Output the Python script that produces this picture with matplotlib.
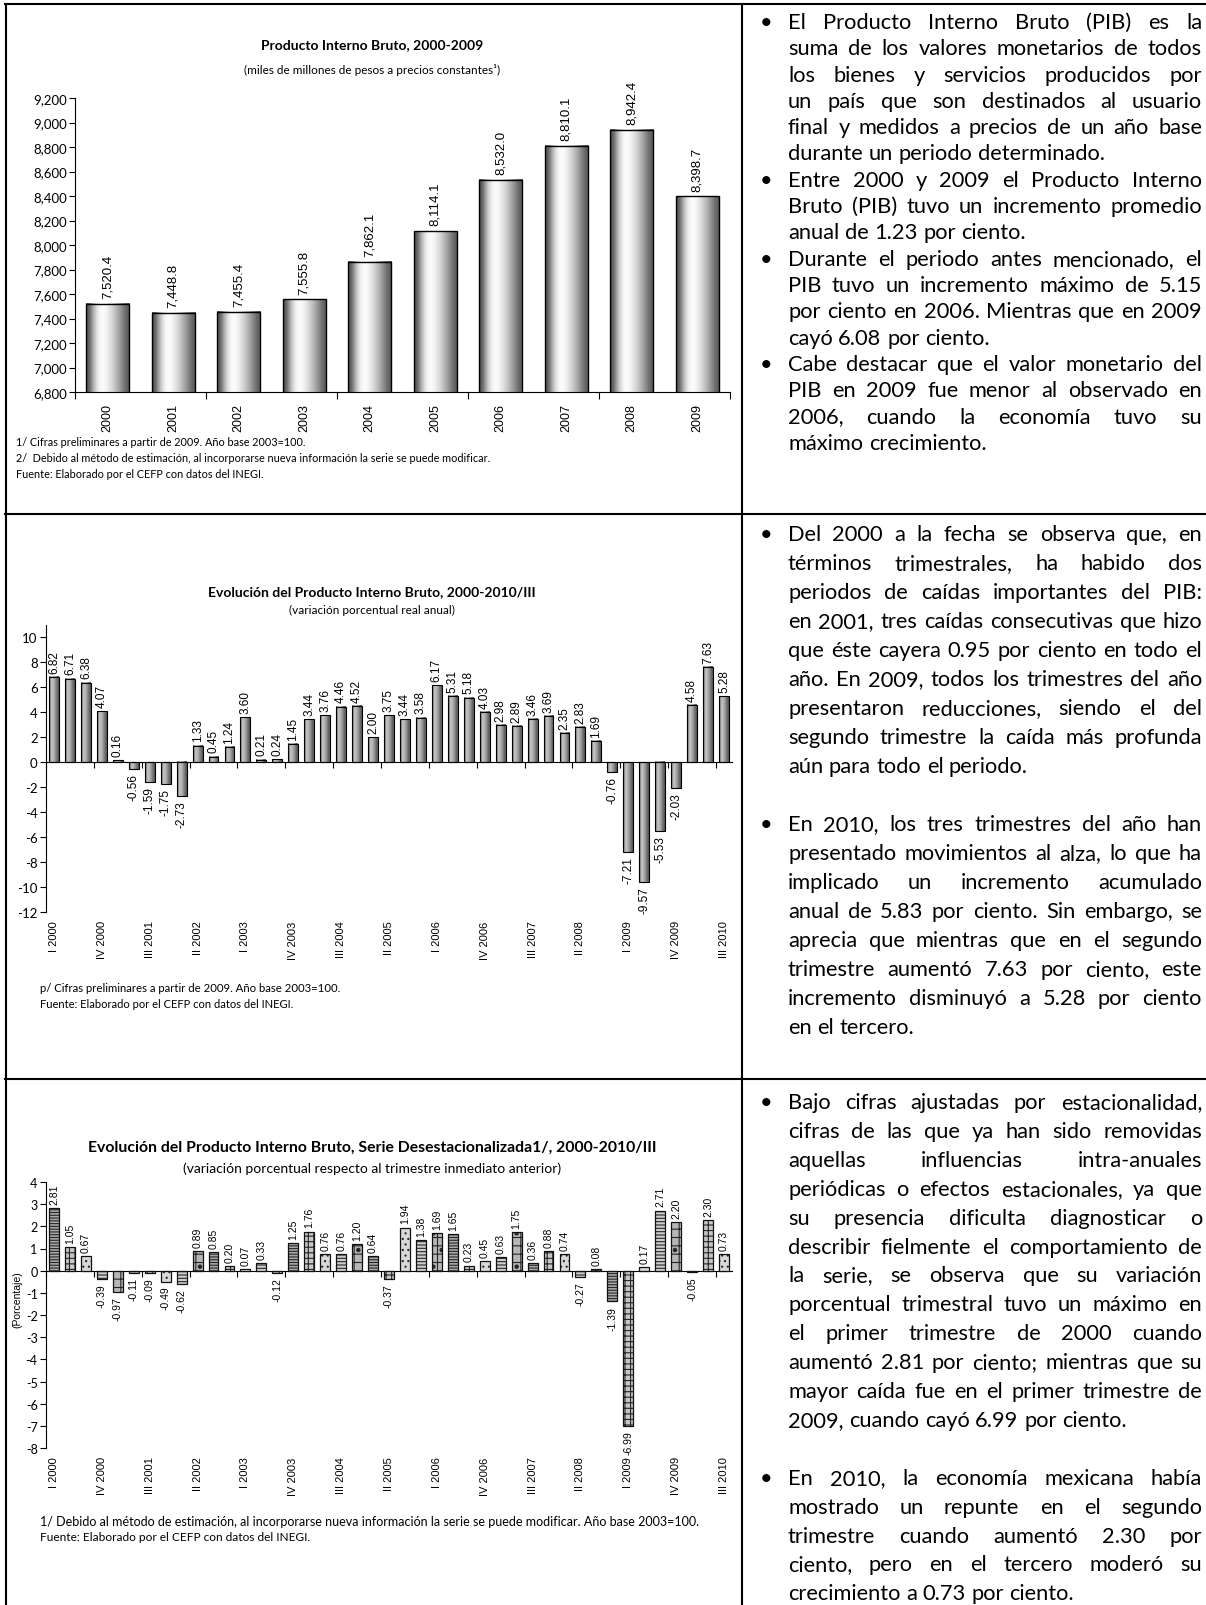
import numpy as np
import matplotlib.pyplot as plt
from matplotlib.lines import Line2D
from matplotlib.transforms import blended_transform_factory

plt.rcParams['axes.unicode_minus'] = False

W, H = 1206, 1606
fig = plt.figure(figsize=(W / 100, H / 100), dpi=100)

# ---- data ----
years = ['2000', '2001', '2002', '2003', '2004', '2005', '2006', '2007', '2008', '2009']
pib = [7520.4, 7448.8, 7455.4, 7555.8, 7862.1, 8114.1, 8532.0, 8810.1, 8942.4, 8398.7]

# quarterly, I 2000 .. III 2010 (43 values)
var_anual = [6.82, 6.71, 6.38, 4.07,
             0.16, -0.56, -1.59, -1.75,
             -2.73, 1.33, 0.45, 1.24,
             3.60, 0.21, 0.24, 1.45,
             3.44, 3.76, 4.46, 4.52,
             2.00, 3.75, 3.44, 3.58,
             6.17, 5.31, 5.18, 4.03,
             2.98, 2.89, 3.46, 3.69,
             2.35, 2.83, 1.69, -0.76,
             -7.21, -9.57, -5.53, -2.03,
             4.58, 7.63, 5.28]
var_desest = [2.81, 1.05, 0.67, -0.39,
              -0.97, -0.11, -0.09, -0.49,
              -0.62, 0.89, 0.85, 0.20,
              0.07, 0.33, -0.12, 1.25,
              1.76, 0.76, 0.76, 1.20,
              0.64, -0.37, 1.94, 1.38,
              1.69, 1.65, 0.23, 0.45,
              0.63, 1.75, 0.36, 0.88,
              0.74, -0.27, 0.08, -1.39,
              -6.99, 0.17, 2.71, 2.20,
              -0.05, 2.30, 0.73]
q_ticks = ['I 2000', 'IV 2000', 'III 2001', 'II 2002', 'I 2003', 'IV 2003', 'III 2004',
           'II 2005', 'I 2006', 'IV 2006', 'III 2007', 'II 2008', 'I 2009', 'IV 2009', 'III 2010']

TXT = 'Lato'
ARIAL = 'Liberation Sans'


def px_axes(x0, y0, x1, y1):
    return fig.add_axes([x0 / W, 1 - y1 / H, (x1 - x0) / W, (y1 - y0) / H])


def px_text(x, y, s, **kw):
    return fig.text(x / W, 1 - y / H, s, **kw)


def px_line(xs, ys, lw=1.5):
    fig.add_artist(Line2D([v / W for v in xs], [1 - v / H for v in ys], color='black', lw=lw))


def shade(ax, bars, g):
    # cylinder like shading inside every bar
    for b in bars:
        x0, y0, w, h = b.get_x(), b.get_y(), b.get_width(), b.get_height()
        ax.imshow(g, extent=[x0, x0 + w, y0, y0 + h], aspect='auto', cmap='gray',
                  vmin=0, vmax=1, interpolation='bicubic', zorder=2)


def style_axes(ax, ysize):
    ax.spines['top'].set_visible(False)
    ax.spines['right'].set_visible(False)
    ax.spines['left'].set_linewidth(0.8)
    ax.spines['bottom'].set_linewidth(0.8)
    ax.tick_params(axis='y', direction='out', length=4, width=0.8, labelsize=ysize, pad=2)
    for lab in ax.get_yticklabels():
        lab.set_family(TXT)


# ---------------- chart 1 ----------------
ax1 = px_axes(75, 99, 730, 393)
x1 = np.arange(len(years))
bars1 = ax1.bar(x1, pib, width=0.66, color='none', edgecolor='black', lw=1, zorder=3)
shade(ax1, bars1, np.array([[0.3, 0.7, 0.95, 1.0, 0.93, 0.82, 0.68, 0.52, 0.35]]))
ax1.set_xlim(-0.5, 9.5)
ax1.set_ylim(6800, 9200)
ax1.set_yticks(range(6800, 9201, 200))
ax1.set_yticklabels([f'{v:,}' for v in range(6800, 9201, 200)])
ax1.set_xticks(x1)
ax1.set_xticklabels(years, rotation=90, fontsize=9, family=ARIAL)
ax1.set_xticks(np.arange(-0.5, 10, 2), minor=True)
ax1.tick_params(axis='x', which='major', length=0, pad=8)
ax1.tick_params(axis='x', which='minor', direction='out', length=5, width=0.8)
style_axes(ax1, 9.5)
for b, v in zip(bars1, pib):
    ax1.annotate(f'{v:,.1f}', xy=(b.get_x() + b.get_width() / 2, v), xytext=(0, 4),
                 textcoords='offset points', rotation=90, ha='center', va='bottom',
                 fontsize=9.5, family=ARIAL, annotation_clip=False)

px_text(372, 45, 'Producto Interno Bruto, 2000-2009', ha='center', va='center',
        fontsize=10, weight='bold', family=TXT)
px_text(372, 70, '(miles de millones de pesos a precios constantes¹)', ha='center', va='center',
        fontsize=8.5, family=TXT)
px_text(16, 443, '1/ Cifras preliminares a partir de 2009. Año base 2003=100.', va='center',
        fontsize=7.8, family=TXT)
px_text(16, 459, '2/  Debido al método de estimación, al incorporarse nueva información la serie se puede modificar.',
        va='center', fontsize=7.8, family=TXT)
px_text(16, 475, 'Fuente: Elaborado por el CEFP con datos del INEGI.', va='center',
        fontsize=7.8, family=TXT)


def quarter_axis(ax, n):
    ax.spines['bottom'].set_position(('data', 0))
    ax.set_xlim(-0.5, n - 0.5)
    ax.set_xticks(np.arange(-0.5, n, 3))
    ax.set_xticklabels([])
    ax.tick_params(axis='x', direction='out', length=4, width=0.8)
    trans = blended_transform_factory(ax.transData, ax.transAxes)
    for i, lab in zip(range(0, n, 3), q_ticks):
        ax.annotate(lab, xy=(i, 0), xycoords=trans, xytext=(0, -6), textcoords='offset points',
                    rotation=90, ha='center', va='top', fontsize=8, family=ARIAL,
                    annotation_clip=False)


def value_labels(ax, bars, vals, size):
    for b, v in zip(bars, vals):
        up = v >= 0
        ax.annotate(f'{v:.2f}', xy=(b.get_x() + b.get_width() / 2, v),
                    xytext=(0, 3 if up else -3), textcoords='offset points', rotation=90,
                    ha='center', va='bottom' if up else 'top', fontsize=size, family=ARIAL,
                    annotation_clip=False, zorder=5)


# ---------------- chart 2 ----------------
ax2 = px_axes(46, 626, 732, 913)
x2 = np.arange(len(var_anual))
bars2 = ax2.bar(x2, var_anual, width=0.62, color='none', edgecolor='black', lw=0.8, zorder=3)
shade(ax2, bars2, np.array([[0.42, 0.74, 0.76, 0.68, 0.58, 0.46, 0.34]]))
ax2.set_ylim(-12, 11)
ax2.set_yticks(range(-12, 11, 2))
style_axes(ax2, 9.5)
quarter_axis(ax2, len(var_anual))
value_labels(ax2, bars2, var_anual, 8.5)

px_text(372, 592, 'Evolución del Producto Interno Bruto, 2000-2010/III', ha='center', va='center',
        fontsize=10, weight='bold', family=TXT)
px_text(372, 610, '(variación porcentual real anual)', ha='center', va='center',
        fontsize=8.5, family=TXT)
px_text(40, 989, 'p/ Cifras preliminares a partir de 2009. Año base 2003=100.', va='center',
        fontsize=8.2, family=TXT)
px_text(40, 1005, 'Fuente: Elaborado por el CEFP con datos del INEGI.', va='center',
        fontsize=8, family=TXT)

# ---------------- chart 3 ----------------
ax3 = px_axes(46, 1183, 732, 1449)
x3 = np.arange(len(var_desest))
plt.rcParams['hatch.linewidth'] = 0.8
pats = ['------', '+++', '...', '-----', '++.']
faces = ['#a9a9a9', '#c6c6c6', '#d8d8d8', '#cdcdcd', '#b6b6b6']
bars3 = ax3.bar(x3, var_desest, width=0.62, color=[faces[i % 5] for i in x3],
                edgecolor='#262626', lw=0, zorder=3)
for i, b in enumerate(bars3):
    b.set_hatch(pats[i % 5])
ax3.bar(x3, var_desest, width=0.62, color='none', edgecolor='#111111', lw=0.9, zorder=4)
ax3.set_ylim(-8, 4)
ax3.set_yticks(range(-8, 5))
style_axes(ax3, 9)
quarter_axis(ax3, len(var_desest))
value_labels(ax3, bars3, var_desest, 7.5)
px_text(17, 1300, '(Porcentaje)', rotation=90, ha='center', va='center', fontsize=7.5, family=ARIAL)

px_text(372, 1148, 'Evolución del Producto Interno Bruto, Serie Desestacionalizada1/, 2000-2010/III',
        ha='center', va='center', fontsize=11.3, weight='bold', family=TXT)
px_text(372, 1169, '(variación porcentual respecto al trimestre inmediato anterior)', ha='center',
        va='center', fontsize=10, family=TXT)
px_text(40, 1522, '1/ Debido al método de estimación, al incorporarse nueva información la serie se puede modificar. Año base 2003=100.',
        va='center', fontsize=9, family=TXT)
px_text(40, 1538, 'Fuente: Elaborado por el CEFP con datos del INEGI.', va='center',
        fontsize=8.6, family=TXT)

# ---------------- table borders ----------------
px_line([5, W], [5, 5])
px_line([6, 6], [5, H])
px_line([742, 742], [5, H])
px_line([5, W], [515, 515])
px_line([5, W], [1080, 1080])

# ---------------- text column ----------------
row1 = [
    ['El Producto Interno Bruto (PIB) es la',
     'suma de los valores monetarios de todos',
     'los bienes y servicios producidos por',
     'un país que son destinados al usuario',
     'final y medidos a precios de un año base',
     'durante un periodo determinado.'],
    ['Entre 2000 y 2009 el Producto Interno',
     'Bruto (PIB) tuvo un incremento promedio',
     'anual de 1.23 por ciento.'],
    ['Durante el periodo antes mencionado, el',
     'PIB tuvo un incremento máximo de 5.15',
     'por ciento en 2006. Mientras que en 2009',
     'cayó 6.08 por ciento.'],
    ['Cabe destacar que el valor monetario del',
     'PIB en 2009 fue menor al observado en',
     '2006, cuando la economía tuvo su',
     'máximo crecimiento.'],
]
row2 = [
    ['Del 2000 a la fecha se observa que, en',
     'términos trimestrales, ha habido dos',
     'periodos de caídas importantes del PIB:',
     'en 2001, tres caídas consecutivas que hizo',
     'que éste cayera 0.95 por ciento en todo el',
     'año. En 2009, todos los trimestres del año',
     'presentaron reducciones, siendo el del',
     'segundo trimestre la caída más profunda',
     'aún para todo el periodo.'],
    ['En 2010, los tres trimestres del año han',
     'presentado movimientos al alza, lo que ha',
     'implicado un incremento acumulado',
     'anual de 5.83 por ciento. Sin embargo, se',
     'aprecia que mientras que en el segundo',
     'trimestre aumentó 7.63 por ciento, este',
     'incremento disminuyó a 5.28 por ciento',
     'en el tercero.'],
]
row3 = [
    ['Bajo cifras ajustadas por estacionalidad,',
     'cifras de las que ya han sido removidas',
     'aquellas influencias intra-anuales',
     'periódicas o efectos estacionales, ya que',
     'su presencia dificulta diagnosticar o',
     'describir fielmente el comportamiento de',
     'la serie, se observa que su variación',
     'porcentual trimestral tuvo un máximo en',
     'el primer trimestre de 2000 cuando',
     'aumentó 2.81 por ciento; mientras que su',
     'mayor caída fue en el primer trimestre de',
     '2009, cuando cayó 6.99 por ciento.'],
    ['En 2010, la economía mexicana había',
     'mostrado un repunte en el segundo',
     'trimestre cuando aumentó 2.30 por',
     'ciento, pero en el tercero moderó su',
     'crecimiento a 0.73 por ciento.'],
]

renderer = fig.canvas.get_renderer()
XB, XL, XR = 766, 788, 1202


def width_of(s, size):
    t = px_text(0, 0, s, fontsize=size, family=TXT)
    w = t.get_window_extent(renderer).width
    t.remove()
    return w


# largest text size for which the widest line still fits the column
longest = max((ln for row in (row1, row2, row3) for par in row for ln in par[:-1]),
              key=lambda s: width_of(s, 14))
TSIZE = 14.0
while width_of(longest, TSIZE + 0.25) <= (XR - XL) - 4:
    TSIZE += 0.25
SPACE = width_of('a a', TSIZE) - width_of('aa', TSIZE)


def draw_line(line, y, justify):
    words = line.split()
    texts = [px_text(0, y, w, fontsize=TSIZE, family=TXT, va='center') for w in words]
    widths = [t.get_window_extent(renderer).width for t in texts]
    gap = SPACE
    if justify and len(words) > 1:
        gap = max((XR - XL - sum(widths)) / (len(words) - 1), SPACE * 0.6)
    xpos = XL
    for t, w in zip(texts, widths):
        t.set_x(xpos / W)
        xpos += w + gap


def draw_block(pars, y0, pitch, blank):
    y = y0
    for par in pars:
        px_text(XB, y, '•', fontsize=TSIZE, family=TXT, va='center', ha='center')
        for k, line in enumerate(par):
            draw_line(line, y, k < len(par) - 1)
            y += pitch
        y += pitch * blank


draw_block(row1, 23, 26.3, 0)
draw_block(row2, 535, 29.0, 1)
draw_block(row3, 1103, 28.9, 1)

fig.savefig('out.png', dpi=100, facecolor='white')
